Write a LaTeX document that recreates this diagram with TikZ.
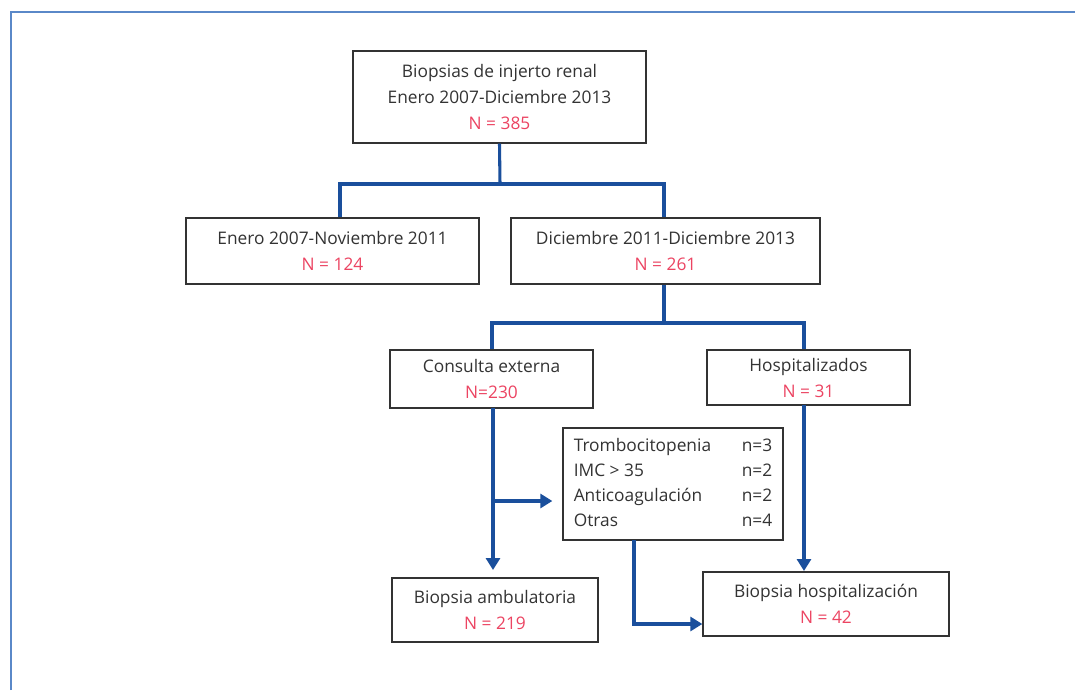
\documentclass[tikz,border=0pt]{standalone}
\usepackage{fontspec}
\setmainfont{Open Sans}
\usetikzlibrary{arrows.meta}
\definecolor{conncol}{HTML}{1A4F9C}
\definecolor{framecol}{HTML}{5A88C8}
\definecolor{numred}{HTML}{EC4462}
\definecolor{txtcol}{HTML}{333333}
\definecolor{boxcol}{HTML}{333333}
\tikzset{
  box/.style={draw=boxcol, line width=1pt, inner sep=0pt, text=txtcol, align=center,
    font=\fontsize{13}{19.5}\selectfont},
  conn/.style={draw=conncol, line width=2.3pt},
  arr/.style={conn, -{Triangle[width=10.5pt,length=9pt]}},
}
\newcommand{\nred}[1]{\textcolor{numred}{#1}}
\begin{document}
\begin{tikzpicture}[x=0.75pt,y=-0.75pt]
\useasboundingbox (0,0) rectangle (1075,690);
\fill[white] (0,0) rectangle (1075,690);
\draw[framecol, line width=1.6pt] (11,690) -- (11,12) -- (1075,12);

\node[box, minimum width=293*0.75pt, minimum height=92*0.75pt] (top) at (499.5,97)
  {Biopsias de injerto renal\\Enero 2007-Diciembre 2013\\\nred{N = 385}};
\node[box, minimum width=293*0.75pt, minimum height=66*0.75pt] (left) at (332.5,251)
  {Enero 2007-Noviembre 2011\\\nred{N = 124}};
\node[box, minimum width=309*0.75pt, minimum height=66*0.75pt] (right) at (665.5,251)
  {Diciembre 2011-Diciembre 2013\\\nred{N = 261}};
\node[box, minimum width=203*0.75pt, minimum height=58*0.75pt] (cons) at (491.5,379)
  {Consulta externa\\\nred{N=230}};
\node[box, minimum width=203*0.75pt, minimum height=55*0.75pt] (hosp) at (808.5,377.5)
  {Hospitalizados\\\nred{N = 31}};
\node[box, minimum width=220*0.75pt, minimum height=112*0.75pt, align=left,
  font=\fontsize{13}{18.75}\selectfont] (list) at (673,484)
  {\begin{tabular}{@{}p{126pt}@{}l@{}}
   Trombocitopenia & n=3\\
   IMC > 35 & n=2\\
   Anticoagulación & n=2\\
   Otras & n=4
   \end{tabular}};
\node[box, minimum width=206*0.75pt, minimum height=64*0.75pt] (amb) at (495,610)
  {Biopsia ambulatoria\\\nred{N = 219}};
\node[box, minimum width=246*0.75pt, minimum height=64*0.75pt] (hb) at (826,604)
  {Biopsia hospitalización\\\nred{N = 42}};

% first split
\coordinate (s1) at (500,184);
\coordinate (s1l) at (340,184);
\coordinate (s1r) at (664,184);
\draw[conn] (top.south) -- (s1);
\draw[conn] (s1l |- left.north) -- (s1l) -- (s1r) -- (s1r |- right.north);

% second split
\coordinate (s2) at (664,323);
\coordinate (s2l) at (492,323);
\coordinate (s2r) at (804,323);
\draw[conn] (s2 |- right.south) -- (s2);
\draw[conn] (s2l |- cons.north) -- (s2l) -- (s2r) -- (s2r |- hosp.north);

% consulta down
\coordinate (c1) at (493,408);
\coordinate (c2) at (493,570);
\coordinate (cb) at (493,501);
\draw[arr] (c1) -- (c2);
\draw[arr] (cb) -- ([xshift=-7.5pt]list.west |- cb);

% hosp down
\coordinate (h1) at (804,405);
\coordinate (h2) at (804,571);
\draw[arr] (h1) -- (h2);

% list to hb
\coordinate (l1) at (634,540);
\coordinate (l2) at (634,624);
\draw[arr] (l1) -- (l2) -- (l2 -| hb.west);
\end{tikzpicture}
\end{document}
